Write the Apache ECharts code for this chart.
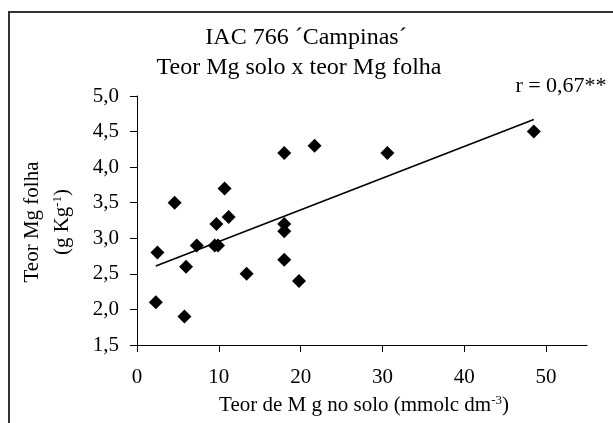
<!DOCTYPE html>
<html>
<head>
<meta charset="utf-8">
<script src="https://cdn.jsdelivr.net/npm/echarts@6/dist/echarts.min.js"></script>
<style>html,body{margin:0;padding:0;background:#fff;}#c{width:613px;height:423px;}</style>
</head>
<body>
<div id="c"></div>
<script>
// Data
var titleLines = ['IAC 766 ´Campinas´', 'Teor Mg solo x teor Mg folha'];
var soloMg = [2.5, 2.3, 4.6, 6.0, 5.8, 7.3, 9.7, 9.5, 9.9, 10.7, 11.2, 13.4, 18.0, 18.0, 18.0, 18.0, 19.8, 21.7, 30.6, 48.5];
var folhaMg = [2.8, 2.1, 3.5, 2.6, 1.9, 2.9, 3.2, 2.9, 2.9, 3.7, 3.3, 2.5, 4.2, 3.2, 3.1, 2.7, 2.4, 4.3, 4.2, 4.5];
var trendX = [2.3, 48.5];
var trendY = [2.61, 4.67];
var xTicks = [0, 10, 20, 30, 40, 50];
var rLabel = 'r = 0,67**';

var font = 'Liberation Serif, Times New Roman, serif';
var points = soloMg.map(function (x, i) { return [x, folhaMg[i]]; });
var trend = trendX.map(function (x, i) { return [x, trendY[i]]; });

var chart = echarts.init(document.getElementById('c'), null, { renderer: 'canvas' });
chart.setOption({
  backgroundColor: '#fff',
  animation: false,
  grid: { left: 137, right: 26, top: 96, bottom: 78, containLabel: false },
  xAxis: {
    type: 'value', min: 0, max: 55, interval: 10,
    axisLine: { show: true, lineStyle: { color: '#000', width: 1 } },
    axisTick: { show: true, length: 7, lineStyle: { color: '#000' }, customValues: xTicks },
    axisLabel: { color: '#000', fontFamily: font, fontSize: 21, margin: 22, customValues: xTicks },
    splitLine: { show: false }
  },
  yAxis: {
    type: 'value', min: 1.5, max: 5, interval: 0.5,
    axisLine: { show: true, lineStyle: { color: '#000', width: 1 } },
    axisTick: { show: true, length: 7, lineStyle: { color: '#000' } },
    axisLabel: { color: '#000', fontFamily: font, fontSize: 21, margin: 18,
      formatter: function (v) { return v.toFixed(1).replace('.', ','); } },
    splitLine: { show: false }
  },
  series: [
    { type: 'scatter', data: points, symbol: 'diamond', symbolSize: 14,
      itemStyle: { color: '#000', opacity: 1 }, z: 3 },
    { type: 'line', data: trend, showSymbol: false, symbol: 'none',
      lineStyle: { color: '#000', width: 1.6 }, z: 2 }
  ],
  graphic: [
    { type: 'rect', shape: { x: 9, y: 12, width: 700, height: 500 },
      style: { fill: 'none', stroke: '#333', lineWidth: 2 }, silent: true },
    { type: 'text', x: 306, y: 38, style: { text: titleLines[0], font: '24px ' + font,
      fill: '#000', textAlign: 'center', textVerticalAlign: 'middle' } },
    { type: 'text', x: 299, y: 68, style: { text: titleLines[1], font: '24px ' + font,
      fill: '#000', textAlign: 'center', textVerticalAlign: 'middle' } },
    { type: 'text', x: 561, y: 86, style: { text: rLabel, font: '22px ' + font,
      fill: '#000', textAlign: 'center', textVerticalAlign: 'middle' } },
    { type: 'text', x: 364, y: 405, style: {
      text: '{a|Teor de M g no solo (mmolc dm}{s|-3}{a|)}',
      textAlign: 'center', textVerticalAlign: 'middle',
      rich: { a: { fontFamily: font, fontSize: 21, fill: '#000', color: '#000' },
              s: { fontFamily: font, fontSize: 13, fill: '#000', color: '#000', verticalAlign: 'top' } } } },
    { type: 'text', x: 32, y: 222, rotation: Math.PI / 2, style: {
      text: 'Teor Mg folha', font: '21px ' + font, fill: '#000',
      textAlign: 'center', textVerticalAlign: 'middle' } },
    { type: 'text', x: 62, y: 222, rotation: Math.PI / 2, style: {
      text: '{a|(g Kg}{s|-1}{a|)}',
      textAlign: 'center', textVerticalAlign: 'middle',
      rich: { a: { fontFamily: font, fontSize: 21, fill: '#000', color: '#000' },
              s: { fontFamily: font, fontSize: 13, fill: '#000', color: '#000', verticalAlign: 'top' } } } }
  ]
});
</script>
</body>
</html>
